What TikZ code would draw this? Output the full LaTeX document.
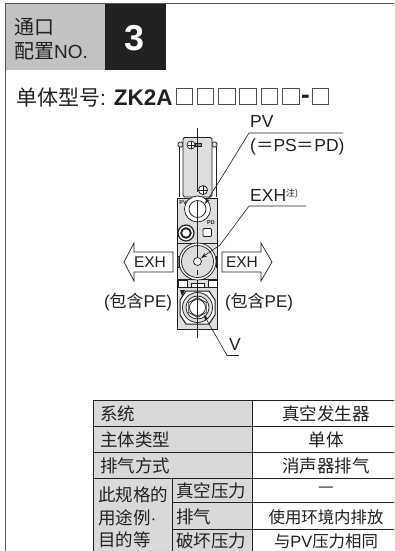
\documentclass[tikz,border=0pt]{standalone}
\usepackage{fontspec}
\setmainfont{Liberation Sans}
\newfontfamily\cjk{Noto Sans CJK SC}
\definecolor{hdr}{gray}{0.76}
\definecolor{cellg}{gray}{0.85}
\definecolor{body}{gray}{0.87}
\definecolor{ink}{gray}{0.13}
\usetikzlibrary{arrows.meta}
\tikzset{
  x=1pt,y=-1pt,
  frameline/.style={ink!75,line width=1.1pt},
  cell/.style={draw=ink,line width=1pt},
  ttxt/.style={inner sep=0pt,font=\cjk\fontsize{17.5}{19}\selectfont,text=ink},
  vtxt/.style={inner sep=0pt,font=\cjk\fontsize{16.4}{18}\selectfont,text=ink},
  htxt/.style={inner sep=0pt,font=\cjk\fontsize{20}{22}\selectfont,text=ink},
  lbl/.style={inner sep=0pt,font=\fontsize{17.5}{20}\selectfont,text=ink},
  arrowlbl/.style={inner sep=0pt,font=\fontsize{15.5}{18}\selectfont,text=ink},
  pelbl/.style={inner sep=0pt,font=\fontsize{17}{20}\selectfont,text=ink},
  part/.style={draw=ink,line width=.75pt},
  leader/.style={draw=ink,line width=.6pt},
  leadarrow/.style={leader,-{Stealth[length=6pt,width=4pt]}},
  portarrow/.style={draw=ink,fill=white,line width=.7pt},
  boxmark/.style={draw=ink!80,line width=1pt},
}
\begin{document}
\begin{tikzpicture}
\useasboundingbox (0,0) rectangle (394,551);
\fill[white] (0,0) rectangle (394,551);
% frame
\draw[frameline] (394,3.5) -- (5.5,3.5) -- (5.5,551);
% header
\fill[hdr] (6,4) rectangle (105,70);
\fill[ink] (105,4) rectangle (166,70);
\node[htxt,anchor=west] (h1) at (14,27) {通口};
\node[htxt,anchor=west] (h2) at (14,51) {配置\fontspec{Liberation Sans}\fontsize{19}{22}\selectfont NO.};
\node[inner sep=0pt,text=white,font=\bfseries\fontsize{36}{38}\selectfont] (num) at (135,38) {3};
% model
\node[inner sep=0pt,anchor=west,font=\fontsize{21}{24}\selectfont,text=ink] (model) at (16,98) {{\cjk 单体型号}: \textbf{\fontsize{22.5}{24}\selectfont ZK2A}};
\foreach \i in {0,...,5}{\draw[boxmark] ({176+\i*21.3},88.5) rectangle ({192.5+\i*21.3},104.5);}
\node[inner sep=0pt,font=\bfseries\fontsize{26}{28}\selectfont,text=ink] (dash) at (305.5,99) {-};
\draw[boxmark] (312,88.5) rectangle (328.5,104.5);
% solenoid upper
\draw[part,fill=white] (179,147) -- (179,197) (216,147) -- (216,197);
\draw[part,fill=body,rounded corners=1.5pt] (178,142) rectangle (183,147);
\draw[part,fill=body,rounded corners=1.5pt] (212,142) rectangle (217,147);
\draw[part,fill=body,rounded corners=1.5pt] (183,137.5) rectangle (212,197);
\draw[part,fill=white] (191,145) circle (4);
\draw[part] (187.5,145) -- (194.5,145) (191,141.5) -- (191,148.5);
\draw[part,fill=ink!50] (195,143.5) rectangle (201,146.5);
\draw[part,fill=white] (203,190) circle (4.5);
\draw[part] (198.5,190) -- (207.5,190) (203,185.5) -- (203,194.5);
% lower block
\draw[part,line width=.9pt,fill=body] (177.5,198) rectangle (217.5,329);
\draw[part] (177.5,243) -- (217.5,243);
\draw[part] (177.5,279) -- (217.5,279);
\draw[part] (177.5,287) -- (217.5,287);
% PV fitting
\draw[part,fill=white] (197.5,209) circle (13);
\draw[part,fill=white] (197.5,209) circle (8.5);
\node[inner sep=0pt,font=\bfseries\fontsize{5.5}{5}\selectfont,text=ink] (pv2) at (183,203) {PV};
\node[inner sep=0pt,font=\bfseries\fontsize{5.5}{5}\selectfont,text=ink] (pd2) at (211,223) {PD};
% small knob and square
\draw[part,line width=1.2pt,fill=white] (186,233) circle (8);
\draw[part,line width=1.8pt] (186,233) circle (4.8);
\draw[part,fill=white,rounded corners=1pt] (203,228.5) rectangle (211.5,236.5);
% EXH disc
\draw[part,fill=white] (197.5,261.5) circle (18.5);
\draw[part,fill=body] (197.5,261.5) circle (16);
\draw[part,fill=white] (197.5,261.5) circle (4);
\draw[part,fill=ink!60] (177.5,256) rectangle (179,267) (216,256) rectangle (217.5,267);
% lower details
\draw[part,fill=white] (178,280) rectangle (187,287) (208,280) rectangle (217,287) (191,283) rectangle (204,287);
\fill[ink] (180,290) -- (185,290) -- (182,296) -- cycle;
% V fitting
\draw[part,line width=1pt,fill=white] (186,291) -- (209,291) -- (215,300) -- (215,315) -- (209,324) -- (186,324) -- (180,315) -- (180,300) -- cycle;
\draw[part,fill=body] (197.5,307.5) circle (15);
\draw[part,fill=white] (197.5,307.5) circle (11.5);
\draw[part,fill=white] (197.5,297.5) -- (206.2,302.5) -- (206.2,312.5) -- (197.5,317.5) -- (188.8,312.5) -- (188.8,302.5) -- cycle;
\draw[part] (197.5,307.5) circle (8);
% centre line
\coordinate (cl1) at (197.5,128);
\coordinate (cl2) at (197.5,338);
\draw[leader] (cl1) -- (197.5,192);
\draw[leader] (197.5,200) -- (197.5,257);
\draw[leader] (197.5,270) -- (197.5,275);
\draw[leader] (197.5,280) -- (cl2);
% PV label
\node[lbl,anchor=west] (pv) at (250,121) {PV};
\node[lbl,anchor=west] (pveq) at (250,147) {({\cjk ＝}PS{\cjk ＝}PD)};
\coordinate (pvtip) at (205,204);
\draw[leader] (343,133) -- (249,133) -- (225,172);
\draw[leadarrow] (225,172) -- (pvtip);
% EXH note label
\node[lbl,anchor=west] (exhn) at (250,195) {EXH\raisebox{5pt}{\cjk\fontsize{9}{9}\selectfont 注)}};
\coordinate (exhtip) at (201,258);
\draw[leader] (306,206) -- (249,206) -- (220,245);
\draw[leadarrow] (220,245) -- (exhtip);
% EXH arrows
\draw[portarrow] (173,252) -- (134,252) -- (134,243) -- (124,262) -- (134,281) -- (134,272) -- (173,272) -- cycle;
\node[arrowlbl] (exl) at (150,262) {EXH};
\draw[portarrow] (222,252) -- (261,252) -- (261,243) -- (272,262) -- (261,281) -- (261,272) -- (222,272) -- cycle;
\node[arrowlbl] (exr) at (242,262) {EXH};
\node[pelbl] (pel) at (138,302) {({\cjk 包含}PE)};
\node[pelbl] (per) at (259,302) {({\cjk 包含}PE)};
% V label
\node[lbl,anchor=west] (v) at (229,344) {V};
\coordinate (vtip) at (204,315);
\draw[leader] (239,355.5) -- (227,355.5);
\draw[leadarrow] (227,355.5) -- (vtip);
% table
\fill[cellg] (93,400) rectangle (252,551);
\draw[cell] (394,400) -- (93,400) -- (93,551);
\draw[cell] (93,426) -- (394,426);
\draw[cell] (93,452) -- (394,452);
\draw[cell] (93,478) -- (394,478);
\draw[cell] (172,502) -- (394,502);
\draw[cell] (172,529) -- (394,529);
\draw[cell] (172,478) -- (172,551);
\draw[cell] (252,400) -- (252,551);
\node[ttxt,anchor=west] (a1) at (100,414) {系统};
\node[ttxt,anchor=west] (a2) at (100,440) {主体类型};
\node[ttxt,anchor=west] (a3) at (100,466) {排气方式};
\node[ttxt,anchor=west] (a4) at (98,495) {此规格的};
\node[ttxt,anchor=west] (a5) at (98,518) {用途例{\fontspec{Liberation Sans}·}};
\node[ttxt,anchor=west] (a6) at (98,540) {目的等};
\node[ttxt,anchor=west] (b1) at (176,491) {真空压力};
\node[ttxt,anchor=west] (b2) at (176,517) {排气};
\node[ttxt,anchor=west] (b3) at (176,541) {破坏压力};
\node[ttxt] (c1) at (326,414) {真空发生器};
\node[ttxt] (c2) at (326,440) {单体};
\node[ttxt] (c3) at (326,466) {消声器排气};
\node[ttxt] (c4) at (326,490) {—};
\node[vtxt] (c5) at (326,517) {使用环境内排放};
\node[vtxt] (c6) at (326,541) {与{\fontspec{Liberation Sans}PV}压力相同};
\end{tikzpicture}
\end{document}
